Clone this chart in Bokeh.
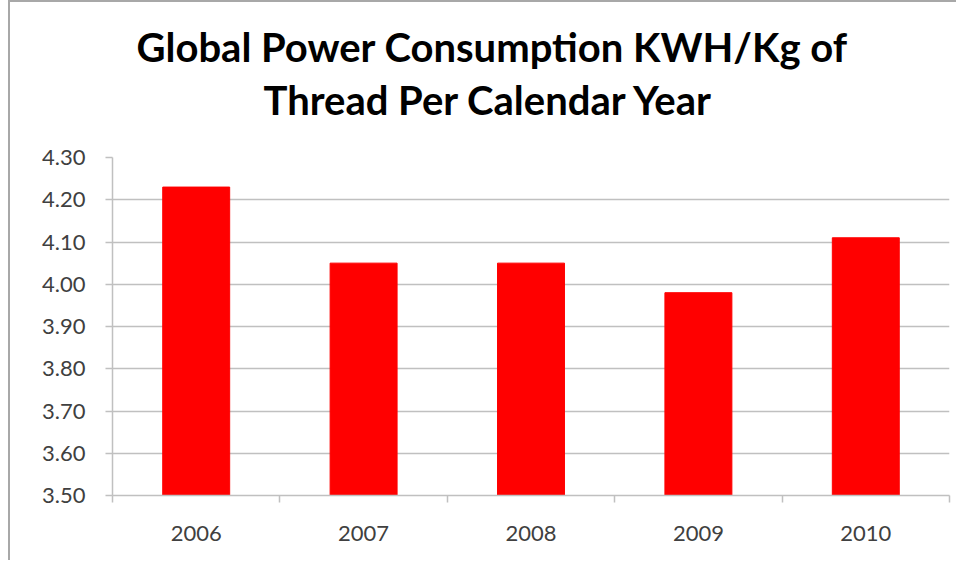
from bokeh.plotting import figure
from bokeh.models import Range1d, FixedTicker, NumeralTickFormatter, Title, LinearAxis
from bokeh.embed import file_html
from bokeh.resources import INLINE

# ---- data ----
years = ["2006", "2007", "2008", "2009", "2010"]
kwh_per_kg = [4.23, 4.05, 4.05, 3.98, 4.11]
y_ticks = [3.50, 3.60, 3.70, 3.80, 3.90, 4.00, 4.10, 4.20, 4.30]
title_line1 = "Global Power Consumption KWH/Kg of"
title_line2 = "Thread Per Calendar Year"

centers = [i + 0.5 for i in range(len(years))]
bounds = [float(i) for i in range(len(years) + 1)]

p = figure(width=948, height=560, output_backend="svg", toolbar_location=None,
           x_range=Range1d(0, len(years)), y_range=Range1d(y_ticks[0], y_ticks[-1]),
           min_border_left=102, min_border_right=9, min_border_top=155, min_border_bottom=67)
p.title.visible = False
p.outline_line_color = None
p.background_fill_color = "white"
p.border_fill_color = "white"
p.styles = {"margin-left": "8px", "border-left": "2px solid #a8a8a8",
            "border-top": "2px solid #a8a8a8"}

p.vbar(x=centers, top=kwh_per_kg, bottom=y_ticks[0], width=0.4,
       fill_color="#ff0000", line_color="#ff0000")

gray = "#c0c0c0"
label_color = "#404040"

# y axis
p.yaxis.ticker = FixedTicker(ticks=y_ticks)
p.yaxis.formatter = NumeralTickFormatter(format="0.00")
p.yaxis.axis_line_color = gray
p.yaxis.axis_line_width = 1.5
p.yaxis.major_tick_line_color = gray
p.yaxis.major_tick_line_width = 1.5
p.yaxis.major_tick_out = 7
p.yaxis.major_tick_in = 0
p.yaxis.minor_tick_line_color = None
p.yaxis.major_label_standoff = 20
p.yaxis.major_label_text_font = "Lato"
p.yaxis.major_label_text_font_size = "22px"
p.yaxis.major_label_text_color = label_color

# x axis
p.xaxis.ticker = FixedTicker(ticks=centers, minor_ticks=bounds)
p.xaxis.major_label_overrides = {c: y for c, y in zip(centers, years)}
p.xaxis.axis_line_color = gray
p.xaxis.axis_line_width = 1.5
p.xaxis.major_tick_line_color = None
p.xaxis.major_tick_out = 0
p.xaxis.major_tick_in = 0
p.xaxis.minor_tick_line_color = gray
p.xaxis.minor_tick_line_width = 1.5
p.xaxis.minor_tick_out = 7
p.xaxis.minor_tick_in = 0
p.xaxis.major_label_standoff = 23
p.xaxis.major_label_text_font = "Lato"
p.xaxis.major_label_text_font_size = "22px"
p.xaxis.major_label_text_color = label_color

# grid
p.xgrid.grid_line_color = None
p.ygrid.ticker = FixedTicker(ticks=y_ticks)
p.ygrid.grid_line_color = gray
p.ygrid.grid_line_width = 1.5

# invisible spacer between the plot area and the title lines
spacer = LinearAxis(ticker=FixedTicker(ticks=[centers[2]]), axis_line_color=None,
                    major_tick_line_color="white", major_tick_line_alpha=0.01,
                    minor_tick_line_color=None,
                    major_tick_out=32, major_tick_in=0, minor_tick_out=0,
                    major_label_text_color=None, major_label_standoff=0)
p.add_layout(spacer, "above")

# titles (second line added first: it sits closest to the plot)
t2 = Title(text=title_line2, align="left", offset=151, text_font="Lato",
           text_font_size="40px", text_font_style="bold", text_color="black", standoff=3)
t1 = Title(text=title_line1, align="left", offset=24, text_font="Lato",
           text_font_size="40px", text_font_style="bold", text_color="black", standoff=3)
p.add_layout(t2, "above")
p.add_layout(t1, "above")

open("out.html", "w").write(file_html(p, INLINE))
